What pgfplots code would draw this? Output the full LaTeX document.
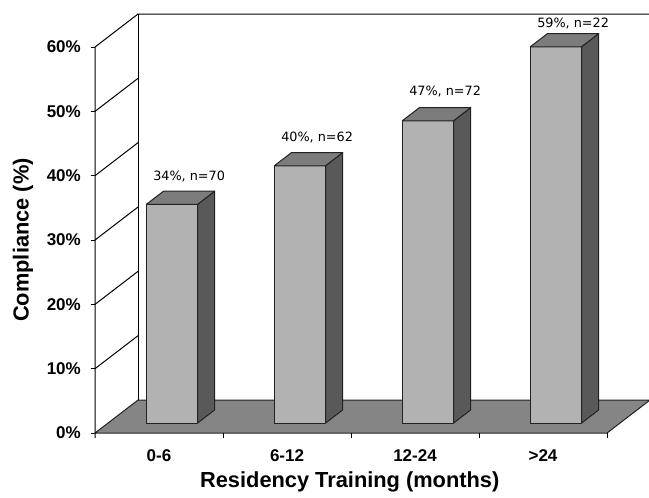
\documentclass[border=0pt]{standalone}
\usepackage{pgfplots}
\pgfplotsset{compat=1.18}
\usepackage{fontspec}
\setmainfont{Liberation Sans}
\newfontfamily\annfont{DejaVu Sans}
\definecolor{floorgray}{HTML}{858585}
\definecolor{barfront}{HTML}{B2B2B2}
\definecolor{barside}{HTML}{595959}
\definecolor{bartop}{HTML}{7C7C7C}
\definecolor{edge}{HTML}{222222}
\newcommand{\tickfont}{\fontsize{17}{19}\selectfont\bfseries}
\newcommand{\labfont}{\fontsize{21.8}{24}\selectfont\bfseries}
\newcommand{\annf}{\annfont\fontsize{12.8}{14}\selectfont}
\begin{document}
\begin{tikzpicture}
\begin{axis}[
  x={(128pt,0pt)}, y={(43pt,33pt)}, z={(0pt,6.433pt)},
  xmin=0, xmax=4, ymin=0, ymax=1, zmin=0, zmax=60,
  hide axis, clip=false,
  every axis plot/.append style={mark=none, line width=1pt, line join=round},
  unbounded coords=jump,
]
% floor
\addplot3[fill=floorgray, draw=edge] coordinates {(0,0,0) (4,0,0) (4,1,0) (0,1,0) (0,0,0)};
% left wall edges and back wall top
\addplot3[draw=black] coordinates {(0,0,-0.8) (0,0,60) (0,1,60) (3.99,1,60)};
\addplot3[draw=black] coordinates {(0,1,0) (0,1,60)};
% gridlines on the left wall
\addplot3[draw=black] coordinates {
 (0,0,10) (0,1,10) (nan,nan,nan)
 (0,0,20) (0,1,20) (nan,nan,nan)
 (0,0,30) (0,1,30) (nan,nan,nan)
 (0,0,40) (0,1,40) (nan,nan,nan)
 (0,0,50) (0,1,50)};
% y ticks
\addplot3[draw=black] coordinates {
 (-0.035,0,0) (0,0,0) (nan,nan,nan)
 (-0.035,0,10) (0,0,10) (nan,nan,nan)
 (-0.035,0,20) (0,0,20) (nan,nan,nan)
 (-0.035,0,30) (0,0,30) (nan,nan,nan)
 (-0.035,0,40) (0,0,40) (nan,nan,nan)
 (-0.035,0,50) (0,0,50) (nan,nan,nan)
 (-0.035,0,60) (0,0,60)};
% x ticks
\addplot3[draw=black] coordinates {
 (1,0,0) (1,0,-0.8) (nan,nan,nan)
 (2,0,0) (2,0,-0.8) (nan,nan,nan)
 (3,0,0) (3,0,-0.8) (nan,nan,nan)
 (4,0,0) (4,0,-0.8)};
% bar 1: 34
\addplot3[fill=barfront, draw=edge] coordinates {(0.3,0.3,0) (0.7,0.3,0) (0.7,0.3,34) (0.3,0.3,34) (0.3,0.3,0)};
\addplot3[fill=barside, draw=edge] coordinates {(0.7,0.3,0) (0.7,0.7,0) (0.7,0.7,34) (0.7,0.3,34) (0.7,0.3,0)};
\addplot3[fill=bartop, draw=edge] coordinates {(0.3,0.3,34) (0.7,0.3,34) (0.7,0.7,34) (0.3,0.7,34) (0.3,0.3,34)};
% bar 2: 40
\addplot3[fill=barfront, draw=edge] coordinates {(1.3,0.3,0) (1.7,0.3,0) (1.7,0.3,40) (1.3,0.3,40) (1.3,0.3,0)};
\addplot3[fill=barside, draw=edge] coordinates {(1.7,0.3,0) (1.7,0.7,0) (1.7,0.7,40) (1.7,0.3,40) (1.7,0.3,0)};
\addplot3[fill=bartop, draw=edge] coordinates {(1.3,0.3,40) (1.7,0.3,40) (1.7,0.7,40) (1.3,0.7,40) (1.3,0.3,40)};
% bar 3: 47
\addplot3[fill=barfront, draw=edge] coordinates {(2.3,0.3,0) (2.7,0.3,0) (2.7,0.3,47) (2.3,0.3,47) (2.3,0.3,0)};
\addplot3[fill=barside, draw=edge] coordinates {(2.7,0.3,0) (2.7,0.7,0) (2.7,0.7,47) (2.7,0.3,47) (2.7,0.3,0)};
\addplot3[fill=bartop, draw=edge] coordinates {(2.3,0.3,47) (2.7,0.3,47) (2.7,0.7,47) (2.3,0.7,47) (2.3,0.3,47)};
% bar 4: 58.5
\addplot3[fill=barfront, draw=edge] coordinates {(3.3,0.3,0) (3.7,0.3,0) (3.7,0.3,58.5) (3.3,0.3,58.5) (3.3,0.3,0)};
\addplot3[fill=barside, draw=edge] coordinates {(3.7,0.3,0) (3.7,0.7,0) (3.7,0.7,58.5) (3.7,0.3,58.5) (3.7,0.3,0)};
\addplot3[fill=bartop, draw=edge] coordinates {(3.3,0.3,58.5) (3.7,0.3,58.5) (3.7,0.7,58.5) (3.3,0.7,58.5) (3.3,0.3,58.5)};
% value labels
\node[anchor=base, inner sep=0, font=\annf, yshift=11pt] at (axis cs:0.5,0.7,34) {34\%, n=70};
\node[anchor=base, inner sep=0, font=\annf, yshift=11pt] at (axis cs:1.5,0.7,40) {40\%, n=62};
\node[anchor=base, inner sep=0, font=\annf, yshift=12pt] at (axis cs:2.5,0.7,47) {47\%, n=72};
\node[anchor=base, inner sep=0, font=\annf, yshift=6.5pt] at (axis cs:3.5,0.7,58.5) {59\%, n=22};
% y tick labels
\node[anchor=east, inner sep=0, font=\tickfont, xshift=-14pt] at (axis cs:0,0,0) {0\%};
\node[anchor=east, inner sep=0, font=\tickfont, xshift=-14pt] at (axis cs:0,0,10) {10\%};
\node[anchor=east, inner sep=0, font=\tickfont, xshift=-14pt] at (axis cs:0,0,20) {20\%};
\node[anchor=east, inner sep=0, font=\tickfont, xshift=-14pt] at (axis cs:0,0,30) {30\%};
\node[anchor=east, inner sep=0, font=\tickfont, xshift=-14pt] at (axis cs:0,0,40) {40\%};
\node[anchor=east, inner sep=0, font=\tickfont, xshift=-14pt] at (axis cs:0,0,50) {50\%};
\node[anchor=east, inner sep=0, font=\tickfont, xshift=-14pt] at (axis cs:0,0,60) {60\%};
% category labels
\node[anchor=north, inner sep=0, font=\tickfont, yshift=-16pt] at (axis cs:0.5,0,0) {0-6};
\node[anchor=north, inner sep=0, font=\tickfont, yshift=-16pt] at (axis cs:1.5,0,0) {6-12};
\node[anchor=north, inner sep=0, font=\tickfont, yshift=-16pt] at (axis cs:2.5,0,0) {12-24};
\node[anchor=north, inner sep=0, font=\tickfont, yshift=-16pt] at (axis cs:3.5,0,0) {>24};
% axis labels
\node[anchor=north, inner sep=0, font=\labfont, yshift=-38pt] at (axis cs:1.99,0,0) {Residency Training (months)};
\node[anchor=center, inner sep=0, font=\labfont, xshift=-72pt, rotate=90] at (axis cs:0,0,30) {Compliance (\%)};
% bounding box corners
\coordinate (bbSW) at (axis cs:-0.7422,0,-9.949);
\coordinate (bbNE) at (axis cs:3.992,1,62.18);
\end{axis}
\pgfresetboundingbox
\path[use as bounding box] (bbSW) rectangle (bbNE);
\end{tikzpicture}
\end{document}
